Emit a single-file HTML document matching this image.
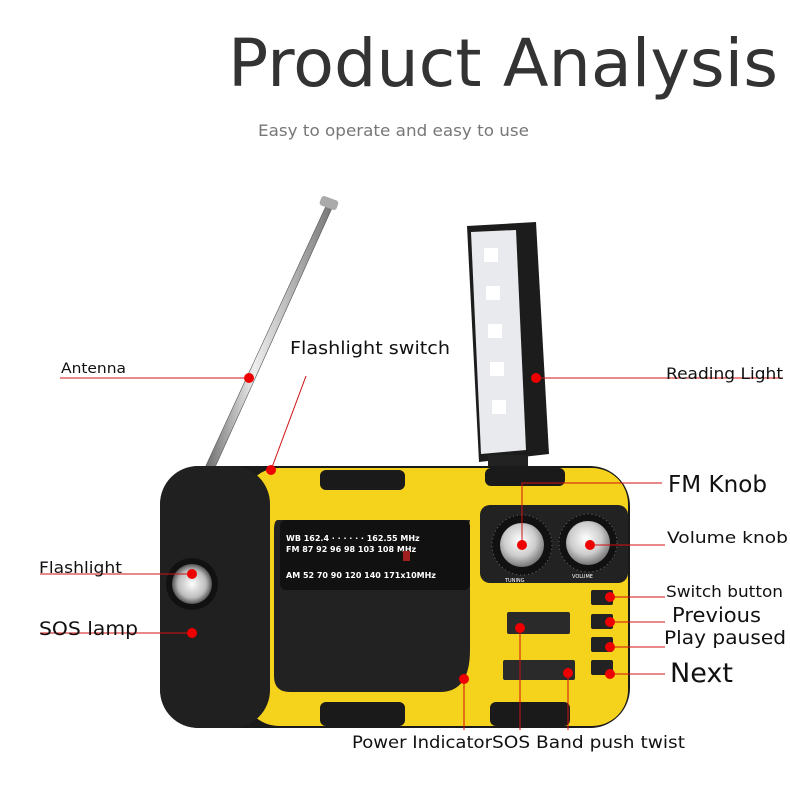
<!DOCTYPE html>
<html><head><meta charset="utf-8"><style>
html,body{margin:0;padding:0;background:#fff;}
svg{display:block;}
text{font-family:"DejaVu Sans","Liberation Sans",sans-serif;fill:#111;}
</style></head><body>
<svg width="790" height="790" viewBox="0 0 790 790" xmlns="http://www.w3.org/2000/svg">
<defs>
<linearGradient id="ant" x1="0" y1="0" x2="1" y2="0">
<stop offset="0" stop-color="#666"/><stop offset="0.4" stop-color="#eee"/><stop offset="1" stop-color="#777"/></linearGradient>
<radialGradient id="knob" cx="0.45" cy="0.4" r="0.6"><stop offset="0" stop-color="#fff"/><stop offset="0.6" stop-color="#ccc"/><stop offset="1" stop-color="#777"/></radialGradient>
<radialGradient id="lens" cx="0.5" cy="0.5" r="0.5"><stop offset="0" stop-color="#fff"/><stop offset="0.7" stop-color="#bbb"/><stop offset="1" stop-color="#555"/></radialGradient>
</defs>
<text x="228" y="86" font-size="66" textLength="550" lengthAdjust="spacingAndGlyphs" style="fill:#333">Product Analysis</text>
<text x="258" y="136" font-size="16" textLength="271" lengthAdjust="spacingAndGlyphs" style="fill:#777">Easy to operate and easy to use</text>

<!-- antenna -->
<polygon points="203,472 212,474 332,208 326,206" fill="url(#ant)" stroke="#555" stroke-width="0.6"/>
<rect x="320" y="198" width="18" height="10" rx="3" fill="#aaa" transform="rotate(20 329 203)"/>

<!-- reading light -->
<polygon points="467,226 536,222 549,454 479,462" fill="#1c1c1c"/>
<polygon points="471,232 516,230 526,450 481,454" fill="#e8eaee"/>
<g fill="#fff"><rect x="484" y="248" width="14" height="14"/><rect x="486" y="286" width="14" height="14"/><rect x="488" y="324" width="14" height="14"/><rect x="490" y="362" width="14" height="14"/><rect x="492" y="400" width="14" height="14"/></g>
<rect x="488" y="455" width="40" height="15" fill="#222"/>

<!-- radio body -->
<rect x="160" y="466" width="470" height="262" rx="40" fill="#1a1a1a"/>
<rect x="243" y="468" width="385" height="258" rx="36" fill="#f5d21b"/>
<rect x="160" y="466" width="110" height="262" rx="38" fill="#202020"/>
<rect x="320" y="470" width="85" height="20" rx="6" fill="#1a1a1a"/>
<rect x="485" y="468" width="80" height="18" rx="6" fill="#1a1a1a"/>
<rect x="320" y="702" width="85" height="24" rx="6" fill="#1a1a1a"/>
<rect x="490" y="702" width="80" height="24" rx="6" fill="#1a1a1a"/>
<path d="M278,520 H470 L460,584 H470 L470,650 Q470,692 440,692 H290 Q274,692 274,676 V530 Q274,520 278,520 Z" fill="#222"/>
<rect x="280" y="520" width="190" height="70" rx="6" fill="#111"/>
<g font-size="8" font-weight="bold">
<text x="286" y="541" style="fill:#fff">WB  162.4   ·  ·  ·  ·  ·  ·  162.55 MHz</text>
<text x="286" y="552" style="fill:#fff">FM    87    92   96 98   103    108  MHz</text>
<text x="286" y="578" style="fill:#fff">AM   52  70  90   120  140   171x10MHz</text>
</g>
<rect x="403" y="551" width="7" height="10" fill="#a02020"/>
<rect x="480" y="505" width="148" height="78" rx="10" fill="#222"/>
<circle cx="522" cy="545" r="30" fill="#111" stroke="#666" stroke-dasharray="1 3"/>
<circle cx="522" cy="545" r="22" fill="url(#knob)"/>
<circle cx="588" cy="543" r="29" fill="#111" stroke="#666" stroke-dasharray="1 3"/>
<circle cx="588" cy="543" r="22" fill="url(#knob)"/>
<text x="505" y="582" font-size="5" style="fill:#fff">TUNING</text>
<text x="572" y="578" font-size="5" style="fill:#fff">VOLUME</text>
<rect x="507" y="612" width="63" height="22" rx="2" fill="#2a2a2a"/>
<rect x="503" y="660" width="72" height="20" rx="2" fill="#2a2a2a"/>
<g fill="#222"><rect x="591" y="590" width="22" height="15" rx="2"/><rect x="591" y="614" width="22" height="15" rx="2"/><rect x="591" y="637" width="22" height="15" rx="2"/><rect x="591" y="660" width="22" height="15" rx="2"/></g>
<circle cx="192" cy="584" r="26" fill="#111"/>
<circle cx="192" cy="584" r="20" fill="url(#lens)"/>

<g stroke="#d01010" stroke-width="1" fill="none">
<line x1="60" y1="378" x2="249" y2="378"/>
<line x1="306" y1="376" x2="271" y2="470"/>
<line x1="536" y1="378" x2="783" y2="378"/>
<polyline points="522,545 522,483 662,483"/>
<line x1="590" y1="545" x2="665" y2="545"/>
<line x1="40" y1="574" x2="192" y2="574"/>
<line x1="40" y1="633" x2="192" y2="633"/>
<line x1="610" y1="597" x2="665" y2="597"/>
<line x1="610" y1="622" x2="665" y2="622"/>
<line x1="610" y1="647" x2="665" y2="647"/>
<line x1="610" y1="674" x2="665" y2="674"/>
<line x1="464" y1="679" x2="464" y2="730"/>
<line x1="520" y1="628" x2="520" y2="730"/>
<line x1="568" y1="673" x2="568" y2="730"/>
</g>
<g fill="#e00">
<circle cx="249" cy="378" r="5"/><circle cx="271" cy="470" r="5"/><circle cx="536" cy="378" r="5"/>
<circle cx="522" cy="545" r="5"/><circle cx="590" cy="545" r="5"/><circle cx="192" cy="574" r="5"/>
<circle cx="192" cy="633" r="5"/><circle cx="610" cy="597" r="5"/><circle cx="610" cy="622" r="5"/>
<circle cx="610" cy="647" r="5"/><circle cx="610" cy="674" r="5"/><circle cx="464" cy="679" r="5"/>
<circle cx="520" cy="628" r="5"/><circle cx="568" cy="673" r="5"/>
</g>

<g lengthAdjust="spacingAndGlyphs">
<text x="61" y="373" font-size="14" textLength="65" lengthAdjust="spacingAndGlyphs">Antenna</text>
<text x="290" y="354" font-size="18" textLength="160" lengthAdjust="spacingAndGlyphs">Flashlight switch</text>
<text x="666" y="379" font-size="16" textLength="117" lengthAdjust="spacingAndGlyphs">Reading Light</text>
<text x="668" y="492" font-size="23" textLength="99" lengthAdjust="spacingAndGlyphs">FM Knob</text>
<text x="667" y="543" font-size="16" textLength="121" lengthAdjust="spacingAndGlyphs">Volume knob</text>
<text x="39" y="573" font-size="16" textLength="83" lengthAdjust="spacingAndGlyphs">Flashlight</text>
<text x="39" y="635" font-size="19" textLength="99" lengthAdjust="spacingAndGlyphs">SOS lamp</text>
<text x="666" y="597" font-size="16" textLength="117" lengthAdjust="spacingAndGlyphs">Switch button</text>
<text x="672" y="622" font-size="20" textLength="89" lengthAdjust="spacingAndGlyphs">Previous</text>
<text x="664" y="644" font-size="19" textLength="122" lengthAdjust="spacingAndGlyphs">Play paused</text>
<text x="670" y="682" font-size="27" textLength="63" lengthAdjust="spacingAndGlyphs">Next</text>
<text x="352" y="748" font-size="17" textLength="140" lengthAdjust="spacingAndGlyphs">Power Indicator</text>
<text x="492" y="748" font-size="17" textLength="193" lengthAdjust="spacingAndGlyphs">SOS Band push twist</text>
</g>
</svg>
</body></html>
